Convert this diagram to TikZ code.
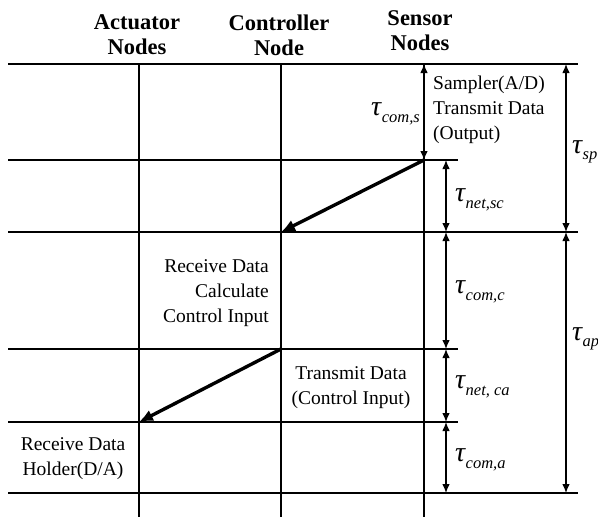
\documentclass[tikz,border=0pt]{standalone}
\usepackage{fontspec}
\setmainfont{Liberation Serif}
\usetikzlibrary{arrows.meta}

% delay label: italic tau with a dropped italic subscript
\newcommand{\tlab}[1]{{\itshape\fontsize{28}{28}\selectfont τ}\kern0.5pt\raisebox{-6.5pt}{\itshape\fontsize{16.5}{16.5}\selectfont #1}}

\begin{document}
\begin{tikzpicture}[x=1pt,y=-1pt,font=\fontsize{19.5}{25}\selectfont]
    \tikzstyle{grid}=[line width=1.1pt]
    \tikzstyle{span}=[{Latex[length=9pt,width=7.5pt]}-{Latex[length=9pt,width=7.5pt]},line width=1.1pt]
    \tikzstyle{msg}=[-{Latex[length=14pt,width=12pt]},line width=3.4pt]
    \tikzstyle{head}=[font=\fontsize{22.5}{25}\selectfont\bfseries, align=center]
    \tikzstyle{note}=[align=center, inner sep=0pt]

    \useasboundingbox (0,0) rectangle (598,517);

    %%%%%%%%%%%%%%%%%%%%%%%%%%%%%%%%%%%%%%%%%%%%
    %%% TIME GRID
    %%%%%%%%%%%%%%%%%%%%%%%%%%%%%%%%%%%%%%%%%%%%
    \foreach \name / \y / \xr in {0/64/578,1/160/458,2/232/578,3/349/458,4/422/458,5/493/578,6/517/578} {
        \coordinate (L-\name) at (8,\y);
        \coordinate (R-\name) at (\xr,\y);
        \coordinate (A-\name) at (139,\y);
        \coordinate (C-\name) at (281,\y);
        \coordinate (S-\name) at (424,\y);
        \coordinate (D-\name) at (446,\y);
        \coordinate (P-\name) at (566,\y);
    }

    \foreach \name in {0,...,5}
        \draw[grid] (L-\name) -- (R-\name);

    \foreach \col in {A,C,S}
        \draw[grid] (\col-0) -- (\col-6);

    %%%%%%%%%%%%%%%%%%%%%%%%%%%%%%%%%%%%%%%%%%%%
    %%% DELAYS AND MESSAGES
    %%%%%%%%%%%%%%%%%%%%%%%%%%%%%%%%%%%%%%%%%%%%
    \draw[span] (S-0) -- (S-1);
    \foreach \source / \dest in {1/2,2/3,3/4,4/5}
        \draw[span] (D-\source) -- (D-\dest);
    \draw[span] (P-0) -- (P-2);
    \draw[span] (P-2) -- (P-5);

    \draw[msg] (S-1) -- (C-2);
    \draw[msg] (C-3) -- (A-4);

    % Annotate the nodes
    \node[head] (act) at (137,35) {Actuator\\Nodes};
    \node[head] (ctl) at (279,35) {Controller\\Node};
    \node[head] (sen) at (420,31) {Sensor\\Nodes};

    \node[note,align=left,anchor=west] (smp) at (433,110) {Sampler(A/D)\\Transmit Data\\(Output)};
    \node[note,align=right,anchor=east] (calc) at (269,293) {Receive Data\\Calculate\\Control Input};
    \node[note] (tx) at (351,388) {Transmit Data\\(Control Input)};
    \node[note] (hold) at (73,459) {Receive Data\\Holder(D/A)};

    \node[anchor=east,inner sep=1pt] (tcs) at (421,114) {\tlab{com,s}};
    \node[anchor=west,inner sep=1pt] (tnsc) at (454,200) {\tlab{net,sc}};
    \node[anchor=west,inner sep=1pt] (tcc) at (454,292) {\tlab{com,c}};
    \node[anchor=west,inner sep=1pt] (tnca) at (454,387) {\tlab{net, ca}};
    \node[anchor=west,inner sep=1pt] (tca) at (454,460) {\tlab{com,a}};
    \node[anchor=west,inner sep=1pt] (tsp) at (571,152) {\tlab{sp}};
    \node[anchor=west,inner sep=1pt] (tap) at (571,339) {\tlab{ap}};
\end{tikzpicture}
\end{document}
